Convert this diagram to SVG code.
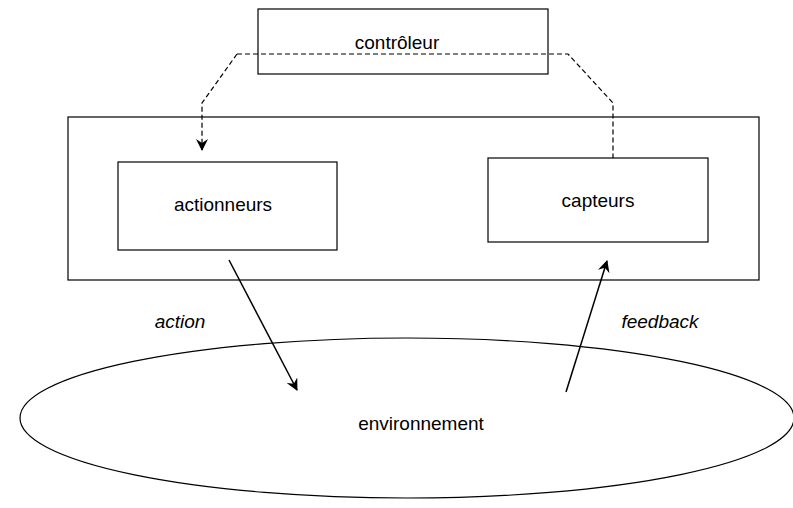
<svg xmlns="http://www.w3.org/2000/svg" width="793" height="508" viewBox="0 0 793 508">
  <defs>
    <marker id="arrow" viewBox="0 0 12 12" refX="11" refY="6" markerWidth="12" markerHeight="12" markerUnits="userSpaceOnUse" orient="auto">
      <path d="M0,0 L12,6 L0,12 L4,6 Z" fill="#000"/>
    </marker>
    <style>
      .box { fill: #fff; stroke: #000; stroke-width: 1.2; }
      .open { fill: none; }
      .label { font-family: "Liberation Sans", Arial, sans-serif; font-size: 19px; fill: #000; text-anchor: middle; }
      .italic { font-style: italic; }
      .link { fill: none; stroke: #000; stroke-width: 1.5; }
      .dash { fill: none; stroke: #000; stroke-width: 1.2; stroke-dasharray: 5 3; }
    </style>
  </defs>
  <rect width="793" height="508" fill="#fff"/>

  <g id="systeme">
    <rect class="box" x="68" y="117" width="691" height="163"/>
  </g>

  <g id="environnement">
    <ellipse class="box open" cx="407" cy="418" rx="387" ry="80"/>
    <text class="label" x="421" y="430">environnement</text>
  </g>

  <g id="controleur">
    <rect class="box open" x="258" y="9" width="290" height="65"/>
    <text class="label" x="397" y="49">contrôleur</text>
  </g>

  <g id="actionneurs">
    <rect class="box" x="118" y="162" width="219" height="88"/>
    <text class="label" x="223" y="211">actionneurs</text>
  </g>

  <g id="capteurs">
    <rect class="box" x="488" y="158" width="220" height="84"/>
    <text class="label" x="598" y="207">capteurs</text>
  </g>

  <g id="connecteurs">
    <path class="dash" d="M237,54 L202,103 L202,150" marker-end="url(#arrow)"/>
    <path class="dash" d="M237,54 L568,54 L613,103 L613,158"/>
    <path class="link" d="M229,260 L297,390" marker-end="url(#arrow)"/>
    <path class="link" d="M566,392 L607,261" marker-end="url(#arrow)"/>
    <text class="label italic" x="180" y="328">action</text>
    <text class="label italic" x="660" y="328">feedback</text>
  </g>
</svg>
